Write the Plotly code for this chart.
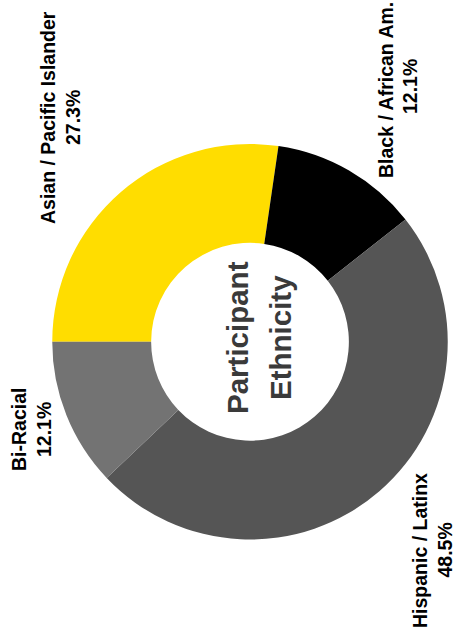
import plotly.graph_objects as go

# Data
categories = ["Asian / Pacific Islander", "Black / African Am.", "Hispanic / Latinx", "Bi-Racial"]
percentages = [27.3, 12.1, 48.5, 12.1]
slice_colors = ["#FFDD00", "#000000", "#555555", "#737373"]
center_title = ["Participant", "Ethnicity"]

W, H = 455, 644

fig = go.Figure(go.Pie(
    labels=categories,
    values=percentages,
    marker=dict(colors=slice_colors, line=dict(width=0)),
    hole=0.5,
    sort=False,
    direction="clockwise",
    rotation=-90,
    textinfo="none",
    hoverinfo="label+percent",
    domain=dict(x=[52 / W, 448 / W], y=[1 - 539.5 / H, 1 - 144 / H]),
    showlegend=False,
))

def px(x):
    return x / W

def py(y):
    return 1 - y / H

# label anchor positions (pixel centres of each text line: name line, percent line)
label_pos = [
    ((48, 118), (73, 118)),
    ((386, 90), (410, 87)),
    ((420, 551), (444.5, 550)),
    ((19, 430), (44, 430)),
]

annotations = []
font_lbl = dict(family="Liberation Sans, Arial, sans-serif", size=19.5, color="#000000")
for cat, val, ((x1, y1), (x2, y2)) in zip(categories, percentages, label_pos):
    annotations.append(dict(text=f"<b>{cat}</b>", x=px(x1), y=py(y1), xref="paper", yref="paper",
                            showarrow=False, textangle=-90, font=font_lbl,
                            xanchor="center", yanchor="middle"))
    annotations.append(dict(text=f"<b>{val}%</b>", x=px(x2), y=py(y2), xref="paper", yref="paper",
                            showarrow=False, textangle=-90, font=font_lbl,
                            xanchor="center", yanchor="middle"))

font_c = dict(family="Liberation Sans, Arial, sans-serif", size=29.5, color="#3a3a3a")
for line, (cx, cy) in zip(center_title, [(237, 338), (280, 338)]):
    annotations.append(dict(text=f"<b>{line}</b>", x=px(cx), y=py(cy), xref="paper", yref="paper",
                            showarrow=False, textangle=-90, font=font_c,
                            xanchor="center", yanchor="middle"))

fig.update_layout(
    width=W, height=H,
    margin=dict(l=0, r=0, t=0, b=0),
    paper_bgcolor="white",
    plot_bgcolor="white",
    annotations=annotations,
)

fig.write_html("out.html", config={"displayModeBar": False},
               post_script="document.body.style.margin='0';")
